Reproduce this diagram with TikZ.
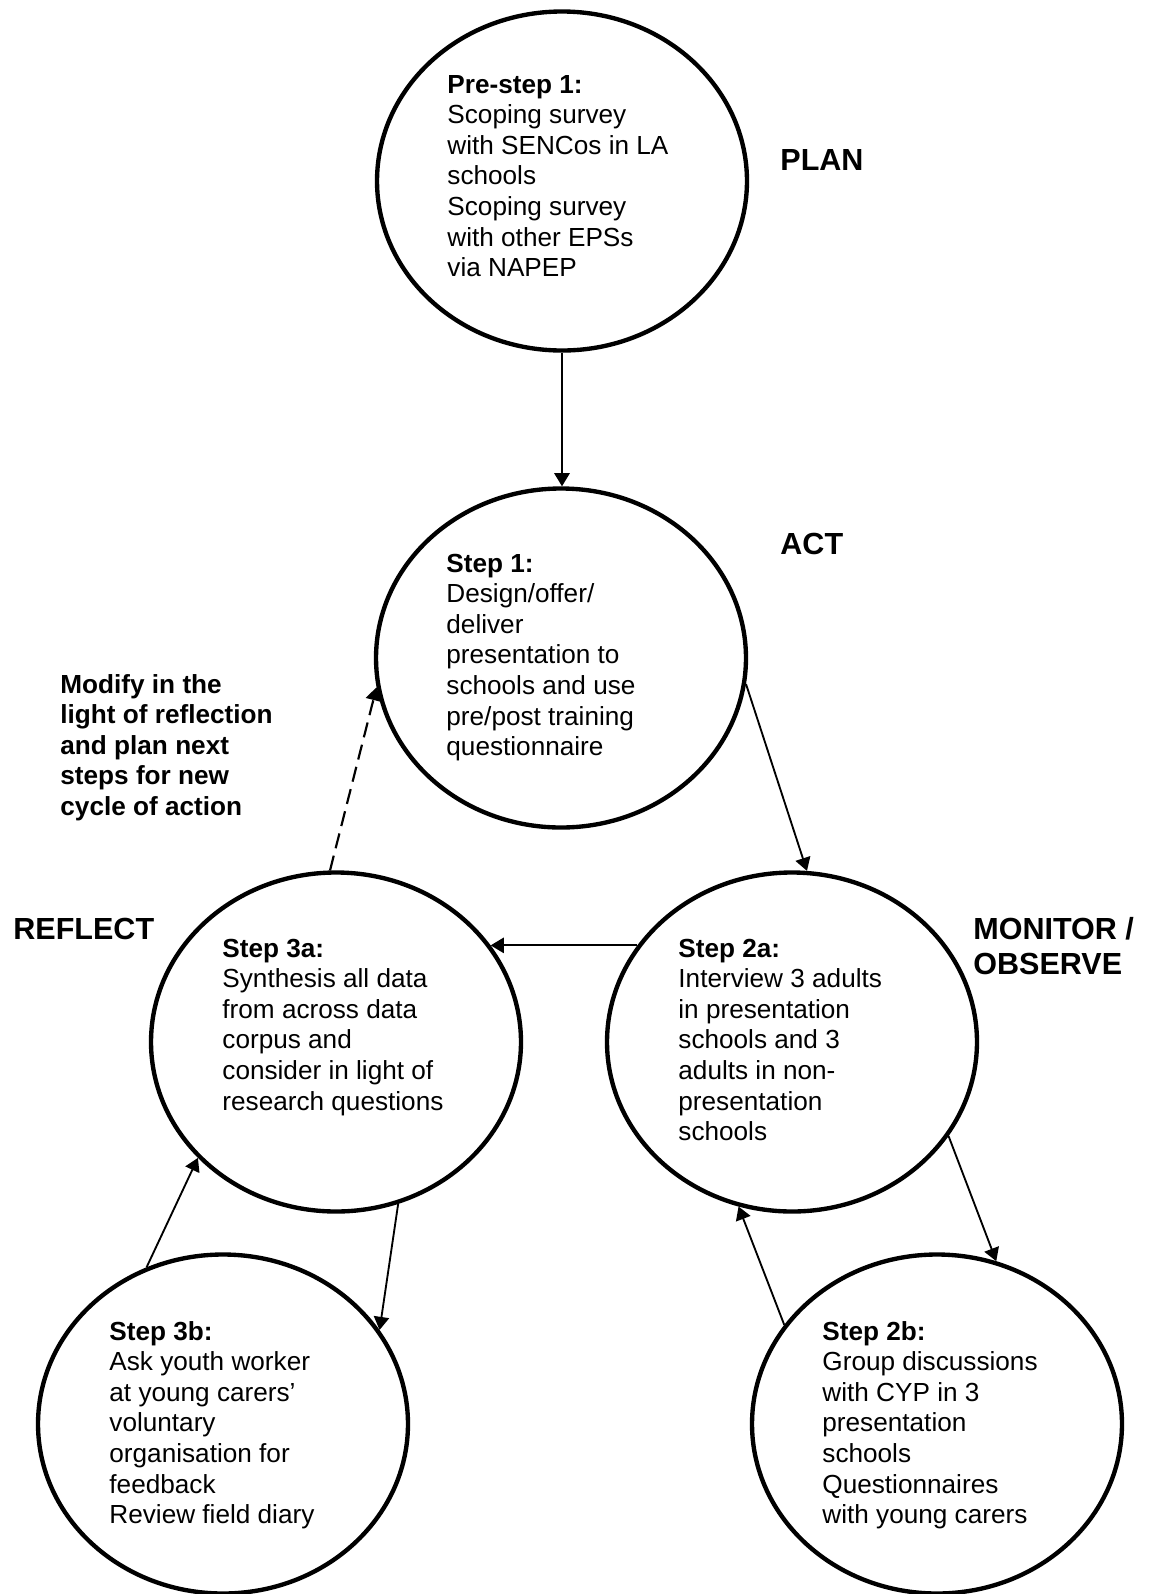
\documentclass[tikz,border=0pt]{standalone}
\usepackage{fontspec}
\setmainfont{Liberation Sans}
\usetikzlibrary{shapes.geometric,arrows.meta}
% left-aligned block whose baseline is the baseline of its first line
\newcommand\celltext[1]{\begin{tabular}[t]{@{}l@{}}#1\end{tabular}}
\begin{document}
\begin{tikzpicture}[x=0.4587pt,y=-0.4587pt,
  stage/.style={draw, ellipse, line width=2pt, inner sep=0pt,
                minimum width=169.7pt, minimum height=155.5pt},
  body/.style={anchor=base west, inner sep=0pt, font=\fontsize{12}{14.05}\selectfont},
  phase/.style={anchor=base west, inner sep=0pt, font=\fontsize{14}{16.4}\selectfont\bfseries},
  flow/.style={line width=0.85pt, -{Triangle[length=6pt,width=7pt]}},
  loopback/.style={flow, line width=1pt, dash pattern=on 7pt off 3.5pt}]

\useasboundingbox (0,0) rectangle (1151,1594);

% the six stages of the cycle
\node[stage] (pre) at (562,181) {};
\node[stage] (s1)  at (561,658) {};
\node[stage] (s3a) at (336,1042) {};
\node[stage] (s2a) at (792,1042) {};
\node[stage] (s3b) at (223,1424) {};
\node[stage] (s2b) at (937,1424) {};

% texts inside the stages
\node[body] (tpre) at (447,93) {\celltext{\textbf{Pre-step 1:}\\Scoping survey\\with SENCos in LA\\schools\\Scoping survey\\with other EPSs\\via NAPEP}};
\node[body] (ts1) at (446,572) {\celltext{\textbf{Step 1:}\\Design/offer/\\deliver\\presentation to\\schools and use\\pre/post training\\questionnaire}};
\node[body] (ts3a) at (222,957) {\celltext{\textbf{Step 3a:}\\Synthesis all data\\from across data\\corpus and\\consider in light of\\research questions}};
\node[body] (ts2a) at (678,957) {\celltext{\textbf{Step 2a:}\\Interview 3 adults\\in presentation\\schools and 3\\adults in non-\\presentation\\schools}};
\node[body] (ts3b) at (109,1340) {\celltext{\textbf{Step 3b:}\\Ask youth worker\\at young carers’\\voluntary\\organisation for\\feedback\\Review field diary}};
\node[body] (ts2b) at (822,1340) {\celltext{\textbf{Step 2b:}\\Group discussions\\with CYP in 3\\presentation\\schools\\Questionnaires\\with young carers}};

% phase labels
\node[phase] (plan) at (780,170) {PLAN};
\node[phase] (act) at (780,554) {ACT};
\node[phase] (reflect) at (13,939) {REFLECT};
\node[phase] (monitor) at (973,939) {\celltext{MONITOR /\\OBSERVE}};
\node[body, font=\fontsize{12}{14.05}\selectfont\bfseries] (modify) at (60,693)
  {\celltext{Modify in the\\light of reflection\\and plan next\\steps for new\\cycle of action}};

% connectors
\draw[flow] (pre.south) -- (pre.south |- s1.north);
\draw[flow] (s1.-8) -- (s2a.85.6);
\draw[flow] (s2a.148) -- (s3a.32);
\draw[loopback] (s3a.92.7) -- (s1.-171.3);
\draw[flow] (s3b.116.9) -- (s3a.-140.2);
\draw[flow] (s3a.-69.4) -- (s3b.31.5);
\draw[flow] (s2a.-31.1) -- (s2b.70);
\draw[flow] (s2b.147.5) -- (s2a.-108.5);
\end{tikzpicture}
\end{document}
